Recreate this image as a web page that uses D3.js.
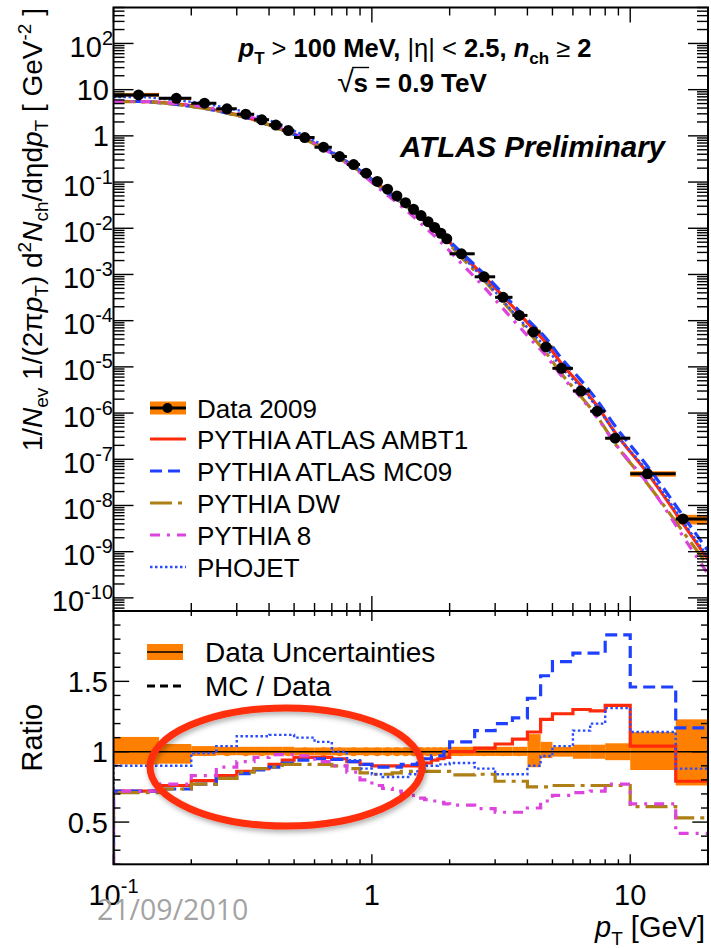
<!DOCTYPE html>
<html><head><meta charset="utf-8">
<script src="https://cdn.jsdelivr.net/npm/d3@7"></script>
<style>
body{margin:0;background:#fff}
svg{display:block}
text{white-space:pre}
</style>
</head><body>
<svg id="chart" width="711" height="948"></svg>
<script>
// pT bin edges (GeV)
const binEdges = [0.1,0.15,0.2,0.25,0.3,0.35,0.4,0.45,0.5,0.6,0.7,0.8,0.9,1.0,1.1,1.2,1.3,1.4,1.5,1.6,1.7,1.8,1.9,2.0,2.5,3.0,3.5,4.0,4.5,5.0,6.0,7.0,8.0,10,15,20];
// marker position inside each bin (GeV)
const dataPt = [0.125,0.175,0.225,0.275,0.325,0.375,0.425,0.475,0.55,0.65,0.75,0.85,0.95,1.05,1.15,1.25,1.35,1.45,1.55,1.65,1.75,1.85,1.95,2.22,2.72,3.22,3.72,4.22,4.72,5.42,6.45,7.45,8.74,11.66,16.0];
// 1/Nev 1/(2 pi pT) d2N/deta dpT  [GeV^-2]
const dataVal = [7.7,6.5,5.1,3.84,2.95,2.22,1.71,1.30,0.92,0.57,0.356,0.239,0.156,0.103,0.070,0.050,0.0358,0.0258,0.0188,0.0139,0.0104,0.0078,0.0059,2.8e-3,8.9e-4,3.2e-4,1.3e-4,5.7e-5,2.7e-5,9.3e-6,3.0e-6,1.1e-6,2.86e-7,4.83e-8,5.1e-9];
// relative data uncertainty (up / down)
const uncUp = [0.105,0.055,0.04,0.035,0.035,0.035,0.035,0.035,0.03,0.03,0.03,0.03,0.03,0.03,0.03,0.03,0.03,0.03,0.03,0.03,0.03,0.03,0.03,0.035,0.035,0.035,0.035,0.125,0.07,0.035,0.05,0.05,0.06,0.14,0.23];
const uncDn = [0.09,0.085,0.03,0.025,0.025,0.025,0.025,0.025,0.025,0.025,0.025,0.025,0.025,0.025,0.025,0.025,0.025,0.025,0.025,0.025,0.025,0.025,0.025,0.03,0.03,0.03,0.03,0.11,0.045,0.035,0.05,0.05,0.06,0.13,0.24];
// MC / Data ratios per bin
const ratioAMBT1 = [0.72,0.76,0.795,0.83,0.86,0.88,0.91,0.94,0.96,0.96,0.95,0.93,0.91,0.90,0.90,0.90,0.90,0.90,0.91,0.92,0.94,0.95,0.96,1.0,1.025,1.055,1.09,1.14,1.23,1.27,1.30,1.29,1.33,1.04,0.79];
const ratioMC09  = [0.72,0.735,0.77,0.81,0.845,0.87,0.89,0.92,0.94,0.95,0.945,0.93,0.91,0.89,0.89,0.89,0.91,0.91,0.92,0.95,0.97,0.97,1.0,1.07,1.15,1.20,1.24,1.38,1.54,1.64,1.70,1.70,1.83,1.46,1.17];
const ratioDW    = [0.71,0.735,0.77,0.81,0.855,0.88,0.89,0.91,0.91,0.91,0.90,0.88,0.85,0.84,0.84,0.85,0.86,0.86,0.86,0.86,0.86,0.86,0.86,0.835,0.84,0.79,0.79,0.75,0.75,0.76,0.76,0.76,0.76,0.61,0.53];
const ratioPY8   = [0.72,0.77,0.83,0.89,0.93,0.96,0.98,0.98,0.97,0.93,0.90,0.855,0.80,0.76,0.74,0.72,0.70,0.69,0.67,0.66,0.65,0.64,0.63,0.62,0.595,0.57,0.57,0.60,0.65,0.69,0.71,0.72,0.77,0.63,0.42];
const ratioPHOJET= [0.90,0.90,0.99,1.04,1.11,1.11,1.12,1.12,1.10,1.07,1.00,0.94,0.88,0.84,0.82,0.82,0.82,0.84,0.86,0.90,0.90,0.91,0.91,0.92,0.88,0.84,0.84,0.90,0.97,1.04,1.15,1.20,1.31,1.14,0.88];
// axis labels
const yDecades = [-10,-9,-8,-7,-6,-5,-4,-3,-2,-1,0,1,2];
const ratioTickLabels = [0.5,1,1.5];
const xDecades = [-1,0,1];
const legendLabels = ["Data 2009","PYTHIA ATLAS AMBT1","PYTHIA ATLAS MC09","PYTHIA DW","PYTHIA 8","PHOJET"];
const ratioLegendLabels = ["Data Uncertainties","MC / Data"];

const FONT = "'Liberation Sans', Arial, Helvetica, sans-serif";
const ORANGE = "#ff8000";
const series = [
  {vals: ratioAMBT1, color:"#ff2a0a", dash:null, w:3.2},
  {vals: ratioMC09, color:"#2040ff", dash:"12,6", w:3.2},
  {vals: ratioDW, color:"#ad7f15", dash:"22,6,4,6", w:3.2},
  {vals: ratioPY8, color:"#dd44dd", dash:"10,7,3,7", w:3.2},
  {vals: ratioPHOJET, color:"#2a4cff", dash:"2.5,2.5", w:2.4}
];

const L = 113.5, R = 708;
const topY0 = 7.5, topY1 = 611, ratY0 = 611, ratY1 = 864.3;

const svg = d3.select("#chart").attr("font-family", FONT);
const x = d3.scaleLog().domain([0.1, 20]).range([L, R]);
const yTop = d3.scaleLog().domain([5.2e-11, 600]).range([topY1, topY0]);
const yRat = d3.scaleLinear().domain([0.2, 2.0]).range([ratY1, ratY0]);

const defs = svg.append("defs");
defs.append("clipPath").attr("id","clipTop").append("rect")
  .attr("x",L).attr("y",topY0).attr("width",R-L).attr("height",topY1-topY0);
defs.append("clipPath").attr("id","clipRat").append("rect")
  .attr("x",L).attr("y",ratY0).attr("width",R-L).attr("height",ratY1-ratY0);
const shadow = defs.append("filter").attr("id","shadow").attr("x","-20%").attr("y","-20%").attr("width","140%").attr("height","150%");
shadow.append("feDropShadow").attr("dx",1.5).attr("dy",3).attr("stdDeviation",2.5)
  .attr("flood-color","#000").attr("flood-opacity",0.3);

function rich(sel, parts) {
  let cur = 0;
  parts.forEach(p => {
    const sh = p.sh || 0;
    const t = sel.append("tspan").text(p.t).attr("dy", sh - cur);
    if (p.fs) t.attr("font-size", p.fs);
    if (p.it) t.attr("font-style", "italic");
    if (p.w) t.attr("font-weight", p.w);
    cur = sh;
  });
}

const nb = dataVal.length;
const bins = d3.range(nb).map(i => ({lo: binEdges[i], hi: binEdges[i+1], pt: dataPt[i], v: dataVal[i], up: uncUp[i], dn: uncDn[i]}));

/* ---------------- top panel ---------------- */
const gTop = svg.append("g").attr("clip-path","url(#clipTop)");
gTop.selectAll("rect.unc").data(bins).join("rect")
  .attr("x", d => x(d.lo)).attr("width", d => x(d.hi) - x(d.lo))
  .attr("y", d => yTop(d.v*(1+d.up))).attr("height", d => yTop(d.v*(1-d.dn)) - yTop(d.v*(1+d.up)))
  .attr("fill", ORANGE);

const lineTop = d3.line().curve(d3.curveMonotoneX);
series.forEach(s => {
  const pts = [[x(binEdges[0]), yTop(dataVal[0]*s.vals[0])]]
    .concat(bins.map((b,i) => [x(b.pt), yTop(b.v*s.vals[i])]));
  // carry the last segment on to the frame edge
  const a = pts[pts.length-2], b = pts[pts.length-1];
  const xe = R + 6, ye = b[1] + (b[1]-a[1])/(b[0]-a[0])*(xe-b[0]);
  gTop.append("path").attr("d", lineTop(pts) + `L${xe},${ye}`).attr("fill","none")
    .attr("stroke", s.color).attr("stroke-width", s.w)
    .attr("stroke-dasharray", s.dash);
});
gTop.selectAll("line.bar").data(bins).join("line")
  .attr("x1", d => x(d.lo)).attr("x2", d => x(d.hi))
  .attr("y1", d => yTop(d.v)).attr("y2", d => yTop(d.v))
  .attr("stroke","#000").attr("stroke-width",3);
gTop.selectAll("circle.pt").data(bins).join("circle")
  .attr("cx", d => x(d.pt)).attr("cy", d => yTop(d.v)).attr("r",5.5).attr("fill","#000");

/* ---------------- ratio panel ---------------- */
const gRat = svg.append("g").attr("clip-path","url(#clipRat)");
gRat.selectAll("rect.unc").data(bins).join("rect")
  .attr("x", d => x(d.lo)).attr("width", d => x(d.hi) - x(d.lo))
  .attr("y", d => yRat(1+d.up)).attr("height", d => yRat(1-d.dn) - yRat(1+d.up))
  .attr("fill", ORANGE);
gRat.selectAll("circle.pt").data(bins).join("circle")
  .attr("cx", d => x(d.pt)).attr("cy", yRat(1)).attr("r",4.5).attr("fill", ORANGE);
gRat.append("line").attr("x1",L).attr("x2",R).attr("y1",yRat(1)).attr("y2",yRat(1))
  .attr("stroke","#000").attr("stroke-width",1.4);

function stepPath(vals) {
  let p = `M${x(binEdges[0])},${yRat.range()[0]}`;
  vals.forEach((v,i) => {
    p += `L${x(binEdges[i])},${yRat(v)}L${x(binEdges[i+1])},${yRat(v)}`;
  });
  return p;
}
series.forEach(s => {
  gRat.append("path").attr("d", stepPath(s.vals)).attr("fill","none")
    .attr("stroke", s.color).attr("stroke-width", s.w)
    .attr("stroke-dasharray", s.dash);
});

/* ---------------- axes, ticks, frames ---------------- */
const axes = svg.append("g").attr("stroke","#000").attr("stroke-width",1.4);
function tick(x1,y1,x2,y2){ axes.append("line").attr("x1",x1).attr("y1",y1).attr("x2",x2).attr("y2",y2); }

// top panel y (log)
for (let e = -11; e <= 2; e++) {
  for (let m = 1; m <= 9; m++) {
    const v = m*Math.pow(10,e);
    if (v < yTop.domain()[0] || v > yTop.domain()[1]) continue;
    const len = m === 1 ? 20 : 11, yy = yTop(v);
    tick(L, yy, L+len, yy); tick(R, yy, R-len, yy);
  }
}
// x ticks (both panels, top and bottom edges)
const xTickVals = [];
for (let e = -1; e <= 1; e++) for (let m = 1; m <= 9; m++) { const v = m*Math.pow(10,e); if (v >= 0.1 && v <= 20) xTickVals.push([v, m===1]); }
xTickVals.push([20,false]);
xTickVals.forEach(([v,maj]) => {
  const xx = x(v);
  tick(xx, topY0, xx, topY0 + (maj?15:8));
  tick(xx, topY1, xx, topY1 - (maj?15:8));
  tick(xx, ratY0, xx, ratY0 + (maj?10:5));
  tick(xx, ratY1, xx, ratY1 - (maj?10:5));
});
// ratio y ticks
d3.range(2, 21).forEach(k => {
  const v = k/10, yy = yRat(v), maj = (k % 5 === 0);
  tick(L, yy, L + (maj?15.7:7), yy); tick(R, yy, R - (maj?15.7:7), yy);
});
svg.append("rect").attr("x",L).attr("y",topY0).attr("width",R-L).attr("height",topY1-topY0)
  .attr("fill","none").attr("stroke","#000").attr("stroke-width",2);
svg.append("rect").attr("x",L).attr("y",ratY0).attr("width",R-L).attr("height",ratY1-ratY0)
  .attr("fill","none").attr("stroke","#000").attr("stroke-width",2);

// tick labels
const lab = svg.append("g").attr("fill","#000").attr("font-size",29);
yDecades.forEach(e => {
  const yy = yTop(Math.pow(10,e));
  if (e === 0 || e === 1) {
    lab.append("text").attr("x",109).attr("y",yy+10.5).attr("text-anchor","end").text(e===0?"1":"10");
  } else {
    const t = lab.append("text").attr("x",113).attr("y",yy+13.5).attr("text-anchor","end");
    rich(t, [{t:"10"},{t:String(e),fs:20,sh:-12}]);
  }
});
ratioTickLabels.forEach(v => {
  lab.append("text").attr("x",108).attr("y",yRat(v)+10.5).attr("text-anchor","end").text(String(v));
});
xDecades.forEach(e => {
  const xx = x(Math.pow(10,e));
  const t = lab.append("text").attr("x",xx).attr("y",905).attr("text-anchor","middle");
  if (e === -1) rich(t, [{t:"10"},{t:"-1",fs:20,sh:-12}]);
  else t.text(e===0 ? "1" : "10");
});

// axis titles
const yt = svg.append("text").attr("font-size",28).attr("text-anchor","end")
  .attr("transform","translate(42,8) rotate(-90)");
rich(yt, [
  {t:"1/"},{t:"N",it:1},{t:"ev",fs:19,sh:6},{t:" 1/(2π"},{t:"p",it:1},{t:"T",fs:19,sh:6},
  {t:") d"},{t:"2",fs:19,sh:-11},{t:"N",it:1},{t:"ch",fs:19,sh:6},{t:"/dηd"},{t:"p",it:1},
  {t:"T",fs:19,sh:6},{t:" [ GeV"},{t:"-2",fs:19,sh:-11},{t:" ]"}
]);
svg.append("text").attr("font-size",29).attr("text-anchor","middle")
  .attr("transform",`translate(42,${yRat(1.1)}) rotate(-90)`).text("Ratio");
const xt = svg.append("text").attr("font-size",29).attr("text-anchor","end").attr("x",705).attr("y",937);
rich(xt, [{t:"p",it:1},{t:"T",fs:19,sh:8},{t:" [GeV]"}]);

// header texts
const h1 = svg.append("text").attr("font-size",25.5).attr("font-weight","bold").attr("text-anchor","middle")
  .attr("x",415).attr("y",57);
rich(h1, [{t:"p",it:1},{t:"T",fs:17,sh:7},{t:" ",},{t:">",w:"normal"},{t:" 100 MeV, "},{t:"|η|",w:"normal"},
  {t:" "},{t:"<",w:"normal"},{t:" 2.5, "},{t:"n",it:1},{t:"ch",fs:17,sh:7},{t:" "},{t:"≥",w:"normal"},{t:" 2"}]);
const h2 = svg.append("text").attr("font-size",26).attr("font-weight","bold").attr("text-anchor","middle")
  .attr("x",412).attr("y",92);
rich(h2, [{t:"√",w:"normal",fs:30},{t:"s"},{t:" = 0.9 TeV"}]);
{
  const n = h2.node();
  const r0 = n.getExtentOfChar(0), r1 = n.getExtentOfChar(1);
  svg.append("line").attr("x1", r0.x + r0.width - 1.5).attr("x2", r1.x + r1.width + 1)
    .attr("y1", r0.y + 2.5).attr("y2", r0.y + 2.5).attr("stroke","#000").attr("stroke-width",1.4);
}
svg.append("text").attr("font-size",29.5).attr("font-weight","bold").attr("font-style","italic")
  .attr("x",400).attr("y",157).text("ATLAS Preliminary");

// top legend
const legRows = [408,439,471,503,535,567];
const leg = svg.append("g");
leg.append("rect").attr("x",150).attr("y",legRows[0]-6.5).attr("width",36).attr("height",13).attr("fill",ORANGE);
leg.append("line").attr("x1",150).attr("x2",186).attr("y1",legRows[0]).attr("y2",legRows[0]).attr("stroke","#000").attr("stroke-width",3);
leg.append("circle").attr("cx",167.5).attr("cy",legRows[0]).attr("r",5).attr("fill","#000");
series.forEach((s,i) => {
  leg.append("line").attr("x1",150).attr("x2",186).attr("y1",legRows[i+1]).attr("y2",legRows[i+1])
    .attr("stroke",s.color).attr("stroke-width",s.w).attr("stroke-dasharray",s.dash);
});
legendLabels.forEach((t,i) => {
  leg.append("text").attr("x",197).attr("y",legRows[i]+9.5).attr("font-size",26).text(t);
});

// ratio legend
const rl = svg.append("g");
rl.append("rect").attr("x",147).attr("y",644).attr("width",36).attr("height",16).attr("fill",ORANGE);
rl.append("line").attr("x1",147).attr("x2",183).attr("y1",652).attr("y2",652).attr("stroke","#000").attr("stroke-width",1.4);
rl.append("line").attr("x1",147).attr("x2",183).attr("y1",686).attr("y2",686).attr("stroke","#000").attr("stroke-width",3).attr("stroke-dasharray","8,5");
rl.append("text").attr("x",205).attr("y",662).attr("font-size",28).text(ratioLegendLabels[0]);
rl.append("text").attr("x",205).attr("y",696).attr("font-size",28).text(ratioLegendLabels[1]);

// highlight ring over the low-pT region of the ratio panel
svg.append("ellipse").attr("cx",286).attr("cy",767).attr("rx",136).attr("ry",59)
  .attr("fill","none").attr("stroke","#ff2d0a").attr("stroke-width",7).attr("filter","url(#shadow)");

// date stamp
svg.append("text").attr("x",97).attr("y",920).attr("font-family","'Open Sans', sans-serif")
  .attr("font-size",28.5).attr("fill","#a3a3a3").text("21/09/2010");
</script>
</body></html>
